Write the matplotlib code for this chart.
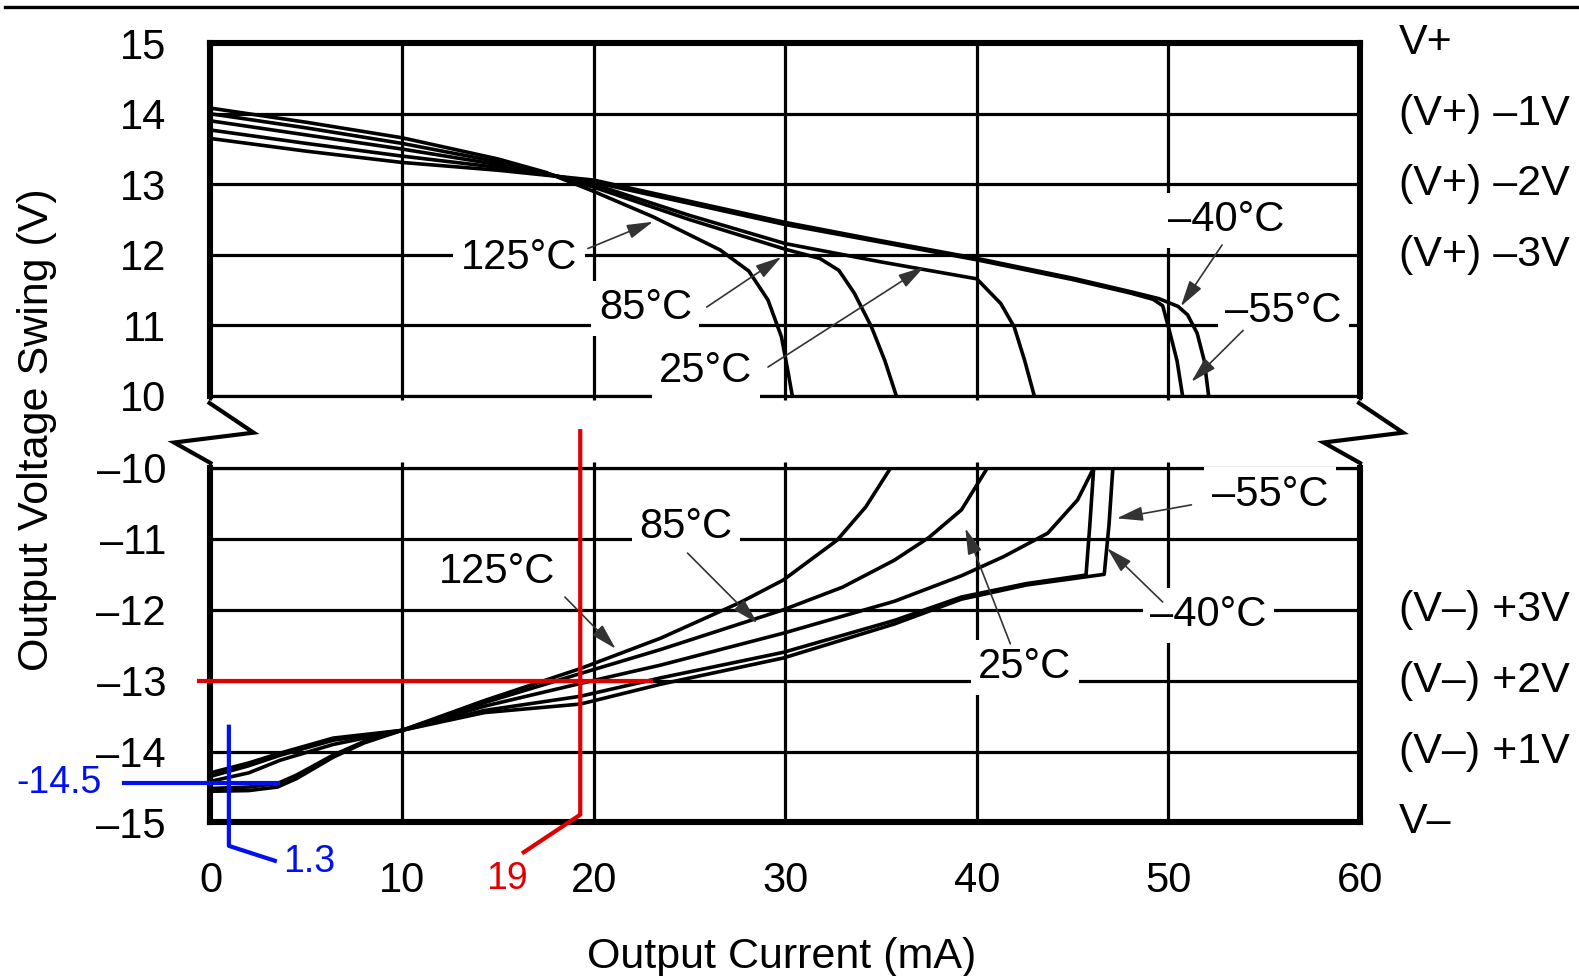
import matplotlib
matplotlib.use("Agg")
import matplotlib.pyplot as plt
from matplotlib.lines import Line2D

plt.rcParams['font.family'] = ['Liberation Sans', 'DejaVu Sans']

# ---- upper half: sourcing current (mA) vs output swing (V)
up_125_i = [0, 5, 10, 15, 17.5, 20, 23.1, 26.6, 28.1, 29.1, 29.8, 30.1, 30.37]
up_125_v = [14.08, 13.88, 13.66, 13.36, 13.17, 12.9, 12.54, 12.07, 11.77, 11.36, 10.84, 10.41, 10.0]
up_85_i = [0, 5, 10, 15, 17.5, 20, 25, 30, 31.8, 32.8, 33.6, 34.5, 35.2, 35.8]
up_85_v = [14.0, 13.8, 13.58, 13.32, 13.16, 12.96, 12.5, 12.08, 11.95, 11.78, 11.46, 10.98, 10.5, 10.0]
up_25_i = [0, 5, 10, 15, 17.5, 20, 25, 30, 35, 40, 41.25, 41.95, 42.5, 43.0]
up_25_v = [13.9, 13.7, 13.5, 13.28, 13.15, 13.0, 12.56, 12.16, 11.9, 11.66, 11.31, 10.98, 10.5, 10.0]
up_m40_i = [0, 5, 10, 15, 17.5, 20, 25, 30, 35, 40, 45, 48, 49.2, 49.7, 50.0, 50.45, 50.74]
up_m40_v = [13.77, 13.58, 13.4, 13.24, 13.14, 13.03, 12.73, 12.43, 12.18, 11.93, 11.65, 11.46, 11.37, 11.28, 10.98, 10.5, 10.0]
up_m55_i = [0, 5, 10, 15, 17.5, 20, 25, 30, 35, 40, 45, 48, 49.5, 50.5, 51.0, 51.5, 51.87, 52.1]
up_m55_v = [13.65, 13.47, 13.31, 13.2, 13.13, 13.06, 12.76, 12.46, 12.2, 11.95, 11.67, 11.48, 11.38, 11.27, 11.15, 10.89, 10.5, 10.0]

# ---- lower half: sinking current (mA) vs output swing (V)
lo_125_i = [0, 2, 3.5, 4.5, 6.4, 8, 10, 14.3, 19.3, 23.5, 27.7, 29.9, 32.7, 34.2, 35.5]
lo_125_v = [-14.56, -14.55, -14.5, -14.38, -14.08, -13.88, -13.7, -13.28, -12.83, -12.4, -11.89, -11.58, -11.02, -10.55, -10.0]
lo_85_i = [0, 2, 3.5, 4.5, 6.4, 8, 10, 14.3, 19.3, 23.5, 29.9, 33, 35.7, 37.5, 39.2, 40.55]
lo_85_v = [-14.52, -14.5, -14.45, -14.33, -14.05, -13.86, -13.7, -13.31, -12.9, -12.56, -12.0, -11.68, -11.3, -10.98, -10.59, -10.0]
lo_25_i = [0, 2, 3.66, 6.4, 10, 14.3, 19.3, 23.5, 29.9, 35.7, 39.2, 41.4, 43.7, 45.26, 46.1]
lo_25_v = [-14.42, -14.3, -14.12, -13.9, -13.7, -13.36, -13.04, -12.78, -12.33, -11.88, -11.52, -11.25, -10.92, -10.45, -10.0]
lo_m40_i = [0, 2, 3.66, 6.4, 10, 14.3, 19.3, 23.5, 29.9, 35.7, 39.2, 42.6, 45.7, 45.9, 46.1]
lo_m40_v = [-14.35, -14.2, -14.05, -13.84, -13.7, -13.42, -13.22, -12.96, -12.6, -12.15, -11.82, -11.63, -11.51, -10.8, -10.0]
lo_m55_i = [0, 2, 3.66, 6.4, 10, 14.3, 19.3, 23.5, 29.9, 35.7, 39.2, 42.6, 46.65, 46.9, 47.1]
lo_m55_v = [-14.3, -14.16, -14.02, -13.81, -13.7, -13.45, -13.33, -13.05, -12.68, -12.2, -11.85, -11.65, -11.5, -10.8, -10.0]

x_ticks = [0, 10, 20, 30, 40, 50, 60]
up_ticks = [10, 11, 12, 13, 14, 15]
lo_ticks = [-15, -14, -13, -12, -11, -10]
up_tick_labels = ['10', '11', '12', '13', '14', '15']
lo_tick_labels = ['\u201315', '\u201314', '\u201313', '\u201312', '\u201311', '\u201310']
up_rail_ticks = [15, 14, 13, 12]
up_rail_labels = ['V+', '(V+) \u20131V', '(V+) \u20132V', '(V+) \u20133V']
lo_rail_ticks = [-12, -13, -14, -15]
lo_rail_labels = ['(V\u2013) +3V', '(V\u2013) +2V', '(V\u2013) +1V', 'V\u2013']

# temperature labels: (text, text pos, arrow start, arrow tip)
up_labels = [
    ('125\u00b0C', (16.1, 11.95), (19.7, 12.09), (23.1, 12.47)),
    ('85\u00b0C', (22.7, 11.24), (25.9, 11.26), (29.8, 11.97)),
    ('25\u00b0C', (25.85, 10.35), (29.1, 10.41), (37.25, 11.83)),
    ('\u201340\u00b0C', (53.0, 12.49), (52.8, 12.14), (50.65, 11.27)),
    ('\u201355\u00b0C', (56.0, 11.2), (53.9, 10.93), (51.2, 10.2)),
]
lo_labels = [
    ('85\u00b0C', (24.8, -10.83), (24.9, -11.2), (28.55, -12.19)),
    ('125\u00b0C', (14.95, -11.46), (18.5, -11.82), (21.15, -12.55)),
    ('25\u00b0C', (42.5, -12.81), (41.75, -12.48), (39.4, -10.85)),
    ('\u201340\u00b0C', (52.1, -12.08), (49.7, -11.89), (46.8, -11.13)),
    ('\u201355\u00b0C', (55.3, -10.38), (51.2, -10.52), (47.3, -10.71)),
]

# reading marks drawn over the chart
red_i, red_v = 19.3, -13.0
blue_i, blue_v = 0.96, -14.45

fig = plt.figure(figsize=(15.79, 9.76), dpi=100)
ax_up = fig.add_axes([0.1333, 0.5943, 0.728, 0.3614])
ax_lo = fig.add_axes([0.1333, 0.1573, 0.728, 0.3632])

FS = 30
LW = 2.3
CLW = 2.6
black = 'black'

for ax in (ax_up, ax_lo):
    ax.set_xlim(0, 60)
    ax.set_xticks(x_ticks)
    ax.set_axisbelow(True)
    ax.grid(True, color=black, lw=LW)
    for s in ax.spines.values():
        s.set_linewidth(4.4)
    ax.tick_params(axis='y', length=0, pad=32, labelsize=FS)

ax_up.set_ylim(10, 15)
ax_up.set_yticks(up_ticks)
ax_up.set_yticklabels(up_tick_labels)
ax_up.spines['bottom'].set_linewidth(LW)
ax_up.tick_params(axis='x', bottom=True, direction='out', length=3, width=LW, labelbottom=False)

ax_lo.set_ylim(-15, -10)
ax_lo.set_yticks(lo_ticks)
ax_lo.set_yticklabels(lo_tick_labels)
ax_lo.spines['top'].set_linewidth(LW)
ax_lo.tick_params(axis='x', top=True, bottom=False, direction='out', length=4, width=LW,
                  labelsize=FS, pad=24)

for i, v in [(up_125_i, up_125_v), (up_85_i, up_85_v), (up_25_i, up_25_v),
             (up_m40_i, up_m40_v), (up_m55_i, up_m55_v)]:
    ax_up.plot(i, v, color=black, lw=CLW, zorder=4, solid_joinstyle='round')
for i, v in [(lo_125_i, lo_125_v), (lo_85_i, lo_85_v), (lo_25_i, lo_25_v),
             (lo_m40_i, lo_m40_v), (lo_m55_i, lo_m55_v)]:
    ax_lo.plot(i, v, color=black, lw=CLW, zorder=4, solid_joinstyle='round')

arrow = dict(arrowstyle='-|>,head_length=0.8,head_width=0.22', color='#333333',
             lw=1.2, mutation_scale=20, shrinkA=0, shrinkB=0)
for ax, labels in [(ax_up, up_labels), (ax_lo, lo_labels)]:
    for txt, pos, start, tip in labels:
        ax.text(pos[0], pos[1], txt, fontsize=FS, ha='center', va='center', zorder=3,
                bbox=dict(boxstyle='square,pad=0.18', fc='white', ec='none'))
        ax.annotate('', xy=tip, xytext=start, arrowprops=arrow, zorder=5)

# rail labels on the right
for ticks, labels, ax in [(up_rail_ticks, up_rail_labels, ax_up),
                          (lo_rail_ticks, lo_rail_labels, ax_lo)]:
    for t, lab in zip(ticks, labels):
        ax.text(1.034, t, lab, transform=ax.get_yaxis_transform(), fontsize=FS + 1,
                ha='left', va='center')

# axis break zig-zags
for x0 in (0, 60):
    ax_up.plot([x0 - 0.05, x0 + 2.25, x0 - 1.9, x0], [9.9, 9.48, 9.34, 9.05],
               color=black, lw=3, clip_on=False, solid_joinstyle='miter')

fig.text(37 / 1579, 1 - 430 / 976, 'Output Voltage Swing (V)', rotation=90,
         fontsize=FS + 1, ha='center', va='center')
fig.text(782 / 1579, 1 - 968 / 976, 'Output Current (mA)', fontsize=FS + 1,
         ha='center', va='baseline')

# top rule
fig.add_artist(Line2D([0.003, 1.0], [1 - 7 / 976] * 2, color=black, lw=2.4))

# red reading
red = '#e00000'
ax_lo.plot([red_i, red_i, red_i - 2.95], [-9.48, -14.89, -15.42], color=red, lw=3,
           clip_on=False, zorder=6)
ax_lo.plot([-0.6, 23.0], [red_v, red_v], color=red, lw=3, clip_on=False, zorder=6)
ax_lo.text(red_i - 3.85, -15.8, '19', color=red, fontsize=27, ha='center', va='center')

# blue reading
blue = '#0010ee'
ax_lo.plot([-4.5, 3.55], [blue_v, blue_v], color=blue, lw=3, clip_on=False, zorder=6)
ax_lo.plot([blue_i, blue_i, blue_i + 2.4], [-13.65, -15.33, -15.54], color=blue, lw=3,
           clip_on=False, zorder=6)
ax_lo.text(-5.65, blue_v, '-14.5', color=blue, fontsize=27, ha='right', va='center')
ax_lo.text(blue_i + 2.85, -15.56, '1.3', color=blue, fontsize=27, ha='left', va='center')

fig.savefig('out.png', dpi=100)
